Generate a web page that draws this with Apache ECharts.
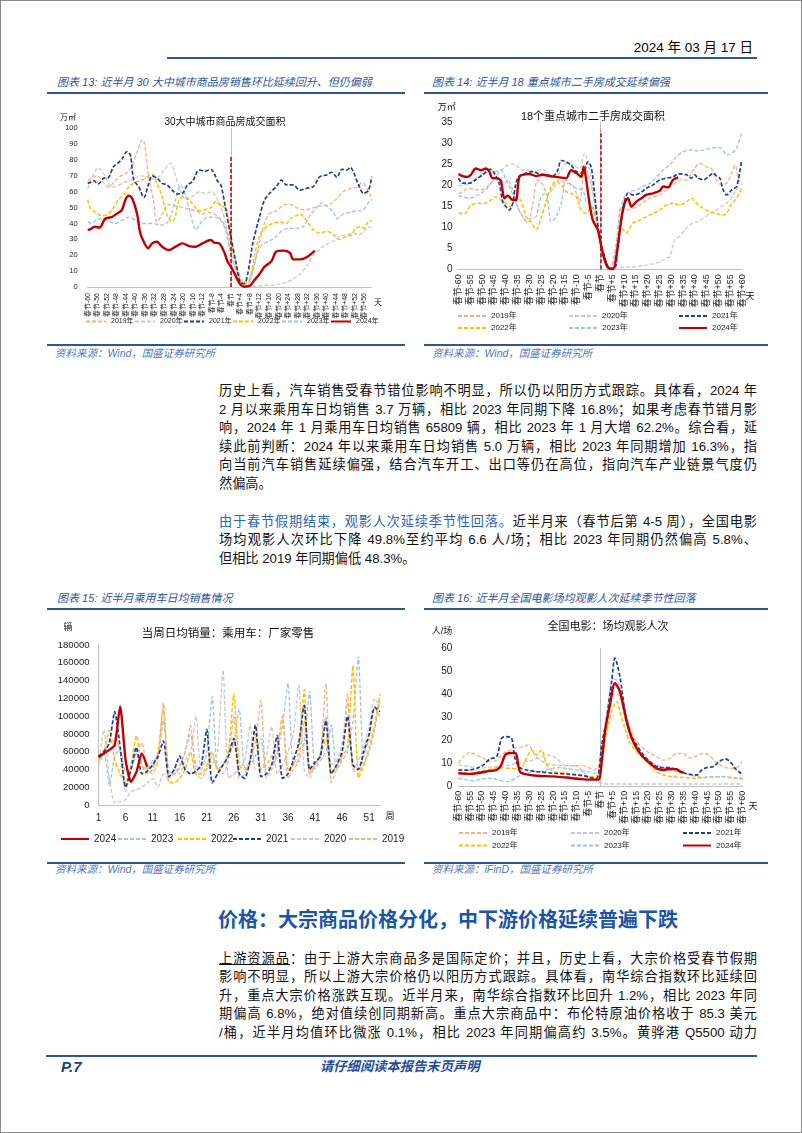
<!DOCTYPE html>
<html><head><meta charset="utf-8">
<script src="https://cdn.jsdelivr.net/npm/echarts@6.0.0/dist/echarts.min.js"></script>
<style>
html,body{margin:0;padding:0;background:#fff}
body{width:802px;height:1133px;position:relative;overflow:hidden;font-family:"Liberation Sans","Noto Sans CJK SC",sans-serif}
.frame{position:absolute;left:0;top:0;width:802px;height:1133px;box-sizing:border-box;border:1px solid #8a8a8a;pointer-events:none}
.abs{position:absolute;white-space:nowrap}
.rule{position:absolute;background:#2f5597}
.ct{position:absolute;white-space:nowrap;font-size:11px;line-height:14px;font-style:italic;color:#2f5597}
.src{position:absolute;white-space:nowrap;font-size:10.5px;line-height:14px;font-style:italic;color:#5377b8}
.para{position:absolute;left:219px;width:538px;font-size:13.2px;line-height:18.5px;color:#111}
.para div{text-align:justify;text-align-last:justify;height:18.5px}
.para div.last{text-align-last:left}
.blue{color:#2e64b0}
.chart{position:absolute}
</style></head>
<body>
<div class="abs" style="right:49px;top:39px;font-size:13.5px;line-height:18px;color:#000">2024 年 03 月 17 日</div>
<div class="rule" style="left:167px;top:57px;width:590px;height:2px"></div>

<div class="ct" style="left:57px;top:74.5px">图表 13: 近半月 30 大中城市商品房销售环比延续回升、但仍偏弱</div>
<div class="ct" style="left:432px;top:74.5px">图表 14: 近半月 18 重点城市二手房成交延续偏强</div>
<div class="rule" style="left:47px;top:92px;width:358px;height:2px"></div>
<div class="rule" style="left:424px;top:92px;width:344px;height:2px"></div>

<div id="c13" class="chart" style="left:47px;top:98px;width:358px;height:245px"></div>
<div id="c14" class="chart" style="left:424px;top:98px;width:344px;height:245px"></div>

<div class="rule" style="left:47px;top:344px;width:358px;height:1.5px"></div>
<div class="rule" style="left:424px;top:344px;width:344px;height:1.5px"></div>
<div class="src" style="left:55px;top:346px">资料来源：Wind，国盛证券研究所</div>
<div class="src" style="left:432px;top:346px">资料来源：Wind，国盛证券研究所</div>

<div class="para" style="top:382px">
<div>历史上看，汽车销售受春节错位影响不明显，所以仍以阳历方式跟踪。具体看，2024 年</div>
<div>2 月以来乘用车日均销售 3.7 万辆，相比 2023 年同期下降 16.8%；如果考虑春节错月影</div>
<div>响，2024 年 1 月乘用车日均销售 65809 辆，相比 2023 年 1 月大增 62.2%。综合看，延</div>
<div>续此前判断：2024 年以来乘用车日均销售 5.0 万辆，相比 2023 年同期增加 16.3%，指</div>
<div>向当前汽车销售延续偏强，结合汽车开工、出口等仍在高位，指向汽车产业链景气度仍</div>
<div class="last">然偏高。</div>
</div>

<div class="para" style="top:512.5px">
<div><span class="blue">由于春节假期结束，观影人次延续季节性回落。</span>近半月来（春节后第 4-5 周），全国电影</div>
<div>场均观影人次环比下降 49.8%至约平均 6.6 人/场；相比 2023 年同期仍然偏高 5.8%、</div>
<div class="last">但相比 2019 年同期偏低 48.3%。</div>
</div>

<div class="ct" style="left:57px;top:591px">图表 15: 近半月乘用车日均销售情况</div>
<div class="ct" style="left:432px;top:591px">图表 16: 近半月全国电影场均观影人次延续季节性回落</div>
<div class="rule" style="left:47px;top:608.3px;width:358px;height:2px"></div>
<div class="rule" style="left:424px;top:608.3px;width:344px;height:2px"></div>

<div id="c15" class="chart" style="left:47px;top:612px;width:358px;height:248px"></div>
<div id="c16" class="chart" style="left:424px;top:612px;width:344px;height:248px"></div>

<div class="rule" style="left:47px;top:862px;width:358px;height:1.5px"></div>
<div class="rule" style="left:424px;top:862px;width:344px;height:1.5px"></div>
<div class="src" style="left:55px;top:862px">资料来源：Wind，国盛证券研究所</div>
<div class="src" style="left:432px;top:862px">资料来源：iFinD，国盛证券研究所</div>

<div class="abs" style="left:218px;top:907px;font-size:20px;line-height:26px;font-weight:bold;color:#1c55a6">价格：大宗商品价格分化，中下游价格延续普遍下跌</div>

<div class="para" style="top:949.8px">
<div><span style="text-decoration:underline">上游资源品</span>：由于上游大宗商品多是国际定价；并且，历史上看，大宗价格受春节假期</div>
<div>影响不明显，所以上游大宗价格仍以阳历方式跟踪。具体看，南华综合指数环比延续回</div>
<div>升，重点大宗价格涨跌互现。近半月来，南华综合指数环比回升 1.2%，相比 2023 年同</div>
<div>期偏高 6.8%，绝对值续创同期新高。重点大宗商品中：布伦特原油价格收于 85.3 美元</div>
<div>/桶，近半月均值环比微涨 0.1%，相比 2023 年同期偏高约 3.5%。黄骅港 Q5500 动力</div>
</div>

<div class="rule" style="left:46px;top:1054.5px;width:711px;height:2.5px"></div>
<div class="abs" style="left:61px;top:1057px;font-size:15px;line-height:20px;font-weight:bold;font-style:italic;color:#1f3d7a">P.7</div>
<div class="abs" style="left:320px;top:1058px;font-size:13.3px;line-height:18px;font-weight:bold;font-style:italic;color:#1f4e9c">请仔细阅读本报告末页声明</div>

<div class="frame"></div>

<script>
// ---------------- DATA ----------------
const years = ['2019年','2020年','2021年','2022年','2023年','2024年'];
const years15 = ['2024','2023','2022','2021','2020','2019'];

// chart 13: 30大中城市商品房成交面积 (万㎡), [day relative to Spring Festival, value]
const c13_2019 = [[-60,67],[-58,69],[-56,70],[-53,65],[-51,63],[-48.5,67],[-46,70],[-43.5,72],[-41.5,76],[-37,93],[-34.5,70],[-32.5,55],[-31,41],[-29,45],[-26,52],[-23,51],[-20,50],[-17.5,49],[-14.5,48],[-12,46],[-9,47],[-5,44],[-3,40],[-0.5,30],[2,15],[5,3],[6.5,1],[9,10],[12,28],[14,40],[16,46],[19,48],[23,52],[25,52],[27.5,50],[31,48.5],[34.5,50],[37,51],[41.5,52],[44.5,56],[47,60],[50,62],[53,63],[55,66],[57,62],[58.5,58],[59,55]];
const c13_2020 = [[-60,62],[-55.5,75],[-52.7,70],[-50,63],[-42.8,67],[-37.2,70],[-31.6,68],[-28.8,72],[-25.3,78],[-23.2,70],[-21,60],[-18.9,55],[-16.1,57],[-13.3,60],[-10.5,59],[-8.4,60],[-4.9,53],[-2.1,40],[-0.6,25],[2.2,10],[4.3,2],[6.4,1],[10.6,0.5],[13.4,1],[19,1.5],[23.3,3],[26.1,5],[28.9,8],[31.7,13],[34.5,20],[37.3,24],[40.1,27],[43,29],[45.8,32],[48.6,33],[51.4,34],[53.5,33],[55.6,35],[57.7,38],[59,37]];
const c13_2021 = [[-60,65.3],[-59,65.8],[-57.6,67],[-55.5,65],[-53.4,68.5],[-51.3,69],[-49.2,75.8],[-47.1,78.4],[-45.7,80.5],[-43.5,85.3],[-42.1,83],[-40.7,67.4],[-38.6,63.2],[-36.5,56.3],[-34.4,65.3],[-33,70],[-30.9,68.5],[-28.8,65.3],[-26.7,64.3],[-24.6,61],[-22.4,58.6],[-20.3,59],[-18.2,64.3],[-16.1,66.4],[-13.3,73.7],[-10.5,73],[-8.4,74.2],[-7,71.6],[-5.6,66.8],[-4.2,64.3],[-2.1,48.5],[0,31.7],[2.2,14.9],[4.3,2.3],[5.7,2.3],[7.1,8.6],[9.2,27.5],[12,44.3],[14.1,54.8],[16.2,59],[19,63.2],[21.2,67.4],[23.3,64.3],[26.1,64.3],[28.9,61],[31.7,62.2],[34.5,63.2],[37.3,69.5],[40.1,70.6],[42.3,72.3],[44.4,69.1],[46.5,74.2],[48.6,73.7],[50,75.4],[51.4,72.3],[53.5,64.3],[55.6,59],[57.7,61],[59,69.5]];
const c13_2022 = [[-60,55],[-59,50],[-56.9,47],[-54.1,45],[-51.3,46],[-49.2,50],[-47.1,55],[-45,58],[-42.8,63],[-40,66],[-36.5,68],[-33,71],[-30.9,65],[-28.8,57],[-26.7,45],[-24.6,41],[-23.2,45],[-21.7,55],[-19.6,57],[-17.5,55],[-15.4,51],[-13.3,48],[-10.5,49],[-8.4,50],[-6.3,54],[-4.2,51],[-2.1,50],[0,30],[2.9,10],[5,2],[7.8,5],[9.9,20],[12,32],[14.8,38],[17.6,40],[20.5,41],[23.3,40],[24.7,43],[27.5,45],[28.9,46],[31.7,42],[34.5,36],[37.3,34],[40.1,35],[43,33],[45.1,30],[48.6,32],[50.7,33],[52.1,37],[54.2,38],[55.6,37],[57,40],[58.4,42],[59,41]];
const c13_2023 = [[-60,41],[-58.3,40],[-55.5,43],[-52.7,42],[-50.6,41],[-48.5,40],[-45.7,42],[-42.8,44],[-40,42],[-37.2,40],[-33,40],[-28.8,39],[-26,42],[-23.2,55],[-21,64],[-18.9,57],[-16.8,45],[-14.7,36],[-11.9,42],[-9.1,44],[-7,44],[-4.9,43],[-2.8,38],[-0.6,25],[2.2,10],[5,2],[7.1,1],[9.2,10],[11.3,22],[13.4,27],[16.2,29],[19,32],[21.9,36],[24.7,37],[27.5,37],[30.3,38],[33.1,45],[35.9,50],[38,53],[40.1,51],[43,47],[44.4,43],[47.2,46],[50,47],[52.8,48],[54.9,48],[57,52],[59,55]];
const c13_2024 = [[-60,36],[-59,36.3],[-57,38],[-55,37.4],[-52.7,43],[-50,44],[-48,46],[-45.7,48.5],[-44.2,55],[-42.8,57.5],[-41.4,56],[-39.3,46],[-38,34],[-36.5,28.5],[-34.7,24.4],[-33,27.5],[-31,28.5],[-28.8,25.4],[-26,23.3],[-23.2,25.4],[-20.3,27.5],[-17.5,25.8],[-14.7,25.4],[-11.9,27.5],[-8.4,29.6],[-7,28],[-4.9,27.5],[-2.8,22],[-1.4,16],[0,12.8],[1.5,8.6],[3.6,2.3],[5.7,0.2],[7.8,0.6],[9.9,4.4],[12,8.2],[14.1,12.8],[16.9,16],[19,22.3],[21.9,22.9],[24.7,21.6],[26.1,17.4],[28.9,17.4],[31.7,18.7],[35.2,22.9]];

// chart 14: 18个重点城市二手房成交面积 (万㎡)
const c14_2019 = [[-60,18],[-58.3,18.5],[-55.5,19.3],[-52.7,18.9],[-49.8,19],[-47,20.1],[-44.9,21.3],[-42.8,21.7],[-40.6,20.5],[-39.2,21.3],[-37.1,18.9],[-35,14.9],[-32.9,12.5],[-30.7,11],[-28.6,15.7],[-26.5,21.3],[-24.4,20.1],[-22.3,17.7],[-20.1,19.3],[-17.3,21.3],[-14.5,20.5],[-11.7,20.1],[-8.8,16.1],[-6.7,24.8],[-4.6,21.3],[-2.5,16.5],[-0.4,7.8],[1.8,2.2],[3.9,0],[6.7,6.2],[8.8,14.9],[10.9,14.1],[13.8,14.5],[16.6,15.3],[19.4,16.5],[22.3,17.3],[25.1,17.7],[27.9,18.9],[30.7,20.1],[33.6,21.3],[36.4,21.3],[39.2,23.6],[42,25.2],[44.9,24.4],[47,24],[49.1,21.3],[51.2,20.1],[53.4,20.5],[55.5,22.9],[56.9,24.8],[58.3,21.7],[59.7,20.1]];
const c14_2020 = [[-60,20],[-58.3,20],[-55.5,20.5],[-52.7,21.7],[-49.8,22.9],[-47,24],[-44.9,23.3],[-42,23.6],[-39.2,24.8],[-37.1,25.1],[-35,24.4],[-32.9,23.6],[-30.7,23.6],[-27.9,22.9],[-25.8,23.6],[-23.7,23.6],[-20.8,22],[-18.7,22],[-16.6,23.6],[-14.5,25.2],[-11.7,24.8],[-8.8,24],[-6.7,27.6],[-4.6,23.6],[-2.5,15.7],[-0.4,7.8],[1.8,3],[3.9,0.6],[6.7,0],[9.5,0.5],[13.8,0.6],[19.4,1],[22.3,1.3],[25.1,1.8],[27.9,2.6],[29.3,3],[31.4,7],[33.6,7.9],[35.7,9.4],[37.8,10.6],[40.6,11.3],[43.5,12.1],[46.3,13.3],[49.1,14.1],[51.9,15.3],[54.8,16.5],[56.9,18.5],[59,20]];
const c14_2021 = [[-60,21.7],[-58.3,20.5],[-55.5,20.5],[-52.7,21.3],[-49.8,22.5],[-46.3,23.8],[-44.9,22.9],[-42.8,20.5],[-41.3,16.1],[-39.9,14.9],[-38.5,14.1],[-37.1,15.7],[-35.7,20.5],[-34.3,22.2],[-31.4,22.9],[-28.6,23.3],[-25.8,22.7],[-23,22.5],[-20.1,22.2],[-18,23.6],[-16.6,25.9],[-14.5,25.6],[-12.4,24.8],[-10.2,23.3],[-7.4,22.9],[-5.3,25.6],[-3.9,24.4],[-2.5,18.1],[-0.4,7.8],[1.8,3],[3.9,0.2],[6,0.2],[7.4,5.4],[9.5,14.1],[11.7,18.1],[13.8,17.7],[16.6,18.1],[19.4,19.3],[22.3,20.1],[25.1,21.3],[27.9,21.7],[30.7,22],[32.9,22.7],[36.4,22.5],[38.5,21.7],[39.9,22.5],[41.3,21.7],[43.5,21.3],[45.6,22],[47.7,22.9],[49.1,22.2],[50.5,21.7],[51.9,18.9],[53.4,17.7],[55.5,18.9],[57.6,19.7],[59.7,26]];
const c14_2022 = [[-60,13.5],[-58.3,13.2],[-56.9,13.4],[-54.8,15.3],[-51.9,15.7],[-49.1,15.7],[-46.3,16.5],[-44.2,17.3],[-42,16.5],[-39.9,15.7],[-37.8,14.9],[-35.7,17.3],[-33.6,16.3],[-31.4,12.5],[-29.3,11.3],[-27.2,9.4],[-25.1,12.1],[-23,16.1],[-20.8,19.7],[-18.7,20.9],[-16.6,20.1],[-14.5,18.5],[-12.4,18.1],[-10.2,17.3],[-8.1,14.1],[-6,13.3],[-3.9,14.9],[-1.8,11.7],[0.4,5.4],[2.5,1.4],[4.6,0],[6.7,2.2],[8.8,10.2],[10.9,8.6],[13.8,11],[16.6,11.7],[19.4,12.5],[22.3,13.3],[25.1,14.1],[27.9,15.3],[30.7,15.7],[33.6,15.3],[36.4,16.1],[38.5,16.9],[40.6,15.7],[43.5,14.5],[46.3,13.7],[49.1,13.3],[51.9,12.9],[53.4,13.3],[55.5,15.7],[57.6,16.9],[59.7,19.3]];
const c14_2023 = [[-60,17.5],[-58.3,17.3],[-55.5,16.9],[-51.9,17.7],[-48.4,18.9],[-46.3,20.5],[-44.2,22],[-42,23.6],[-39.9,21.3],[-37.8,18.9],[-35.7,15.7],[-33.6,13.3],[-31.4,11.7],[-29.3,12.1],[-27.2,12.5],[-25.1,17.3],[-23,18.1],[-20.8,11.3],[-18.7,12.5],[-16.6,15.7],[-14.5,21.3],[-12.4,20.1],[-10.2,19.3],[-7.4,18.9],[-6,16.1],[-4.6,15.7],[-2.5,14.1],[-0.4,7.8],[1.8,1.8],[3.9,0],[6,3],[8.1,12.5],[10.2,17.3],[12.4,18.5],[15.2,18.9],[18,19.7],[20.9,20.5],[23.7,22],[26.5,23.6],[29.3,24.8],[32.2,26.8],[35,28],[37.8,28.4],[40.6,28.2],[43.5,28.4],[46.3,28.8],[49.1,29],[51.2,28.8],[53.4,27.2],[55.5,27.6],[57.6,28.8],[59.7,32.5]];
const c14_2024 = [[-60,22.7],[-58.3,22.2],[-56.2,22],[-54.8,22.5],[-52.7,24],[-50.5,23.6],[-48.4,24],[-47,23.3],[-45.6,21.7],[-43.5,21.7],[-42,20.9],[-40.6,16.9],[-39.2,17.5],[-37.1,16.5],[-35.7,16.5],[-34.3,22],[-32.2,22.6],[-30,22.7],[-27.2,22.2],[-24.4,22.5],[-21.6,22.2],[-18.7,22],[-14.5,21.7],[-12.4,23.6],[-10.2,22.9],[-8.1,22],[-7.1,24.4],[-6,21.3],[-4.6,15.7],[-3.2,11.7],[-1.1,9.4],[0.4,5.4],[1.8,2.2],[3.2,0.4],[5.3,0],[6.7,3],[8.8,11.7],[10.2,15.7],[11.7,16.9],[13.1,14.9],[15.2,16.1],[17.3,16.9],[19.4,17.7],[22.3,18.1],[25.1,18.7],[26.5,19.7],[28.6,19.5],[30.7,21.3],[32.9,21.9]];

// chart 15: 当周日均销量：乘用车：厂家零售 (辆), week 1..53
const weeks = ['1','2','3','4','5','6','7','8','9','10','11','12','13','14','15','16','17','18','19','20','21','22','23','24','25','26','27','28','29','30','31','32','33','34','35','36','37','38','39','40','41','42','43','44','45','46','47','48','49','50','51','52','53'];
const w2024 = [54000,58000,62000,67500,111000,51000,26000,37000,58000,43000];
const w2023 = [45000,62000,22000,55000,62000,38000,40000,58000,45000,40000,50000,55000,95000,38000,35000,42000,60000,80000,45000,40000,60000,122000,40000,45000,55000,70000,108000,42000,45000,55000,75000,40000,45000,60000,90000,137000,45000,50000,70000,128000,40000,50000,60000,90000,40000,50000,60000,95000,167000,45000,60000,85000,120000];
const w2022 = [50000,60000,84000,50000,35000,25000,45000,78000,45000,35000,40000,60000,110000,25000,25000,30000,40000,60000,35000,35000,45000,60000,40000,45000,60000,125000,45000,40000,50000,80000,40000,45000,55000,65000,100000,40000,45000,60000,130000,35000,45000,55000,75000,35000,45000,55000,65000,157000,30000,45000,65000,90000,125000];
const w2021 = [55000,60000,70000,105000,65000,20000,40000,65000,35000,38000,45000,55000,72000,32000,40000,55000,40000,35000,38000,45000,85000,25000,35000,45000,55000,75000,35000,30000,50000,90000,32000,35000,45000,78000,30000,35000,50000,70000,112000,40000,48000,55000,95000,35000,45000,60000,100000,45000,40000,60000,80000,110000,105000];
const w2020 = [45000,85000,30000,2000,4000,6000,15000,17000,20000,25000,30000,20000,35000,30000,40000,35000,50000,60000,100000,35000,40000,45000,60000,152000,30000,35000,40000,50000,90000,40000,40000,55000,88000,35000,45000,60000,80000,135000,40000,30000,45000,60000,100000,45000,50000,70000,115000,40000,50000,65000,90000,120000,110000];
const w2019 = [55000,62000,68000,75000,60000,15000,40000,60000,70000,40000,35000,50000,115000,30000,35000,45000,60000,90000,35000,30000,40000,55000,40000,35000,50000,100000,30000,35000,50000,70000,118000,30000,40000,55000,100000,30000,40000,50000,95000,35000,45000,55000,137000,25000,40000,55000,125000,40000,35000,55000,75000,110000,100000];

// chart 16: 全国电影：场均观影人次 (人/场)
const c16_2019 = [[-60,10],[-57.9,12.9],[-55.1,14.8],[-52.3,13.6],[-49.4,12.2],[-46.6,10.7],[-43.8,11.4],[-41,14.3],[-38.2,15.8],[-35.4,16.8],[-32.6,17.2],[-30.5,18],[-27.6,13.6],[-25.5,11.4],[-22.7,10],[-19.9,9.3],[-15.7,9],[-10.1,9],[-5.8,8.6],[-3,7.1],[-0.2,10],[2.6,26.7],[5.4,40],[7.5,40],[9.6,33.9],[12.5,25.2],[15.3,19.4],[18.1,16.5],[20.9,14.3],[23.7,12.9],[26.5,11.4],[29.3,12.2],[32.1,14.3],[35,14.3],[37.8,12.2],[40.6,13.2],[43.4,14.3],[46.2,13.3],[49,10],[51.8,8.6],[54.7,7.8],[57.5,8.1],[59.6,10.7]];
const c16_2020 = [[-60,9.3],[-55,8.5],[-50,8],[-45,8.5],[-40,9],[-35,10],[-30,11],[-25.5,12.5],[-21.3,13.5],[-18.5,12],[-15.7,9.5],[-10.1,8.5],[-5.8,5],[-3,3],[-0.2,1.5],[2,1],[10,1],[20,1],[30,1],[40,1],[50,1],[60,1]];
const c16_2021 = [[-60,7],[-55,7.1],[-51.6,8.1],[-49.4,9.3],[-46.6,11.9],[-43.8,12.9],[-41.7,20.9],[-39.6,21.6],[-37.5,20.9],[-36.1,12.2],[-34,8.1],[-31.2,7.1],[-26.9,6.4],[-19.9,5.7],[-12.9,5.2],[-7.2,4.6],[-4.4,3.8],[-1.6,3.5],[0.5,18],[2.6,29.6],[4.7,45.5],[6.1,55.7],[8.2,47.7],[10.3,32.5],[12.5,23],[15.3,18],[18.1,13.6],[20.9,10.7],[23.7,8.6],[26.5,8.1],[29.3,8.1],[32.1,7.1],[35,5.9],[37.8,5.2],[40.6,4.9],[42.7,7.1],[44.8,8.1],[47.6,8.6],[50.4,11],[52.5,11.9],[54.7,10.7],[56.8,7.8],[58.9,5.9],[60,5.2]];
const c16_2022 = [[-60,6],[-55,5.7],[-51,6.4],[-46.6,7.4],[-42.4,8.1],[-38.2,7.8],[-34,7.5],[-31.2,12.2],[-29.1,15.8],[-26.9,13.6],[-24.8,15.8],[-22.7,9.3],[-19.9,6.4],[-14.3,5.7],[-8.6,4.9],[-3,4.2],[-0.2,6],[1.9,19.4],[4.7,32.5],[6.8,36.8],[8.2,32.5],[10.3,25.2],[12.5,18.7],[15.3,15.1],[18.1,12.2],[20.9,9.3],[23.7,6.4],[26.5,4.9],[30.7,4.2],[35,3.8],[39.2,3.5],[43.4,3.8],[47.6,4.2],[51.8,4.2],[56.1,3.5],[60,3.2]];
const c16_2023 = [[-60,3.5],[-56.5,2.8],[-53.7,2.3],[-50.9,3],[-46.6,3.5],[-42.4,2.6],[-38.9,2],[-36.1,3.5],[-33.3,4.9],[-29.8,6.1],[-25.5,6.4],[-21.3,7.5],[-18.5,8.1],[-14.3,7.8],[-10.1,7.1],[-5.8,6.4],[-1.6,5.7],[0.5,15.1],[2.6,31],[5.4,47],[7.5,45.5],[9.6,32.5],[12.5,22.3],[15.3,17.2],[18.1,12.9],[20.9,10.7],[23.7,9.3],[26.5,8.1],[29.3,7.1],[32.1,6.4],[35,5.7],[37.8,4.9],[40.6,4.2],[43.4,3.8],[47.6,4.2],[51.8,4.2],[56.1,3.8],[60,3.5]];
const c16_2024 = [[-60,5.7],[-55,5.4],[-51,5.9],[-46.6,6.7],[-43.8,7.1],[-42,9],[-40.3,13.5],[-38.2,14.5],[-36.1,14.5],[-35.4,13.6],[-34,6.4],[-31.2,5.2],[-26.9,4.6],[-19.9,4.3],[-14.3,3.8],[-8.6,3.2],[-4.4,2.9],[-0.9,2.9],[0.5,10.7],[1.9,23.8],[4,35.4],[6.1,44.8],[8.2,41.2],[11.1,28.1],[13.2,20.9],[15.3,16.5],[18.1,12.5],[20.9,10],[23.7,7.8],[26.5,7.1],[29.3,7.5],[32.1,7.4],[33.6,6.4],[35,6.1]];

// tick labels
function festLabel(d){ return d === 0 ? '春节' : '春节' + (d > 0 ? '+' : '') + d; }
const ticks4 = []; for (let d = -60; d <= 56; d += 4) ticks4.push(festLabel(d));
const ticks5 = []; for (let d = -60; d <= 60; d += 5) ticks5.push(festLabel(d));

// ---------------- STYLE ----------------
const FONT = '"Liberation Sans","Noto Sans CJK SC",sans-serif';
const COLORS = ['#f4b183','#c9c9c9','#203f8f','#ffc000','#9dc3e6','#c00000'];
const WIDTHS = [1.3,1.3,1.7,1.5,1.3,2.4];

function lineSeries(name, data, idx, extra){
  return Object.assign({
    type:'line', name:name, data:data, symbol:'none', showSymbol:false, smooth:0.3,
    animation:false, connectNulls:false,
    lineStyle:{color:COLORS[idx], width:WIDTHS[idx], type: idx===5 ? 'solid' : [4,2]},
    itemStyle:{color:COLORS[idx]},
    z: idx===5 ? 6 : (idx===2 ? 4 : 3)
  }, extra || {});
}
function legends(names, pos, fs, iw){
  return names.map((n,i)=>({
    data:[n], left:pos[i][0], top:pos[i][1], orient:'horizontal',
    itemWidth:iw, itemHeight:8, itemGap:0, padding:0, selectedMode:false,
    itemStyle:{opacity:0, borderWidth:0},
    textStyle:{fontSize:fs, color:'#222', fontFamily:FONT}
  }));
}
function txt(x, y, text, fs, extra){
  return Object.assign({type:'text', x:x, y:y, silent:true,
    style:{text:text, fontSize:fs, fontFamily:FONT, fill:'#111', align:'center', verticalAlign:'middle'}}, extra||{});
}
function dayAxis(step, max, fs, margin, ticks){
  return {type:'value', min:-60, max:max, interval:step,
    axisLine:{show:true, onZero:false, lineStyle:{color:'#bfbfbf', width:1}},
    axisTick:{show:false}, splitLine:{show:false},
    axisLabel:{rotate:90, fontSize:fs, color:'#222', fontFamily:FONT, margin:margin, showMaxLabel: max % step === 0,
      formatter:function(v){ const i = Math.round((v + 60) / step); return (Math.abs(v + 60 - i*step) < 1e-6 && i < ticks.length) ? ticks[i] : ''; }}
  };
}
function valAxis(max, step, fs, margin){
  return {type:'value', min:0, max:max, interval:step,
    axisLine:{show:true, lineStyle:{color:'#bfbfbf', width:1}},
    axisTick:{show:false}, splitLine:{show:false},
    axisLabel:{fontSize:fs, color:'#222', fontFamily:FONT, margin:margin, formatter:function(v){ return String(v); }}};
}
function festMark(x, top){
  return {silent:true, symbol:['none','none'], label:{show:false},
    lineStyle:{color:'#c00000', type:[4,2], width:1.5},
    data:[[{coord:[x,0]},{coord:[x,top]}]]};
}

// ---------------- CHART 13 ----------------
(function(){
  const ch = echarts.init(document.getElementById('c13'), null, {renderer:'canvas'});
  const datas = [c13_2019,c13_2020,c13_2021,c13_2022,c13_2023,c13_2024];
  ch.setOption({
    animation:false, textStyle:{fontFamily:FONT},
    grid:{left:40.7, top:30.3, width:284, height:158.7, containLabel:false, outerBoundsMode:'none'},
    xAxis: dayAxis(4, 59, 7, 6, ticks4),
    yAxis: valAxis(100, 10, 7.5, 10),
    legend: legends(years, [[38,220],[87,220],[136,220],[185,220],[234,220],[283,220]], 7, 20),
    graphic:[
      txt(21, 20, '万㎡', 8),
      txt(178, 24, '30大中城市商品房成交面积', 10),
      txt(331, 205, '天', 8)
    ],
    series: datas.map((d,i)=>lineSeries(years[i], d, i, i===5 ? {markLine:festMark(0,82)} : {}))
  });
})();

// ---------------- CHART 14 ----------------
(function(){
  const ch = echarts.init(document.getElementById('c14'), null, {renderer:'canvas'});
  const datas = [c14_2019,c14_2020,c14_2021,c14_2022,c14_2023,c14_2024];
  ch.setOption({
    animation:false, textStyle:{fontFamily:FONT},
    grid:{left:34.5, top:24.3, width:283.8, height:147, containLabel:false, outerBoundsMode:'none'},
    xAxis: dayAxis(5, 60, 9, 5, ticks5),
    yAxis: valAxis(35, 5, 10, 6),
    legend: legends(years, [[33,214],[144,214],[254,214],[33,226],[144,226],[254,226]], 8, 28),
    graphic:[
      txt(22.7, 10, '万㎡', 9),
      txt(169, 19, '18个重点城市二手房成交面积', 11),
      txt(326, 199, '天', 9)
    ],
    series: datas.map((d,i)=>lineSeries(years[i], d, i, i===5 ? {markLine:festMark(0,33)} : {}))
  });
})();

// ---------------- CHART 15 ----------------
(function(){
  const ch = echarts.init(document.getElementById('c15'), null, {renderer:'canvas'});
  const datas = [w2024,w2023,w2022,w2021,w2020,w2019];
  const idxMap = [5,4,3,2,1,0];
  ch.setOption({
    animation:false, textStyle:{fontFamily:FONT},
    grid:{left:51.5, top:33, width:281.5, height:160, containLabel:false, outerBoundsMode:'none'},
    xAxis:{type:'category', data:weeks, boundaryGap:false,
      axisLine:{show:true, lineStyle:{color:'#bfbfbf'}}, axisTick:{show:false},
      axisLabel:{interval:4, fontSize:10, color:'#222', fontFamily:FONT, margin:8}},
    yAxis: valAxis(180000, 20000, 9.5, 9),
    legend: legends(years15, [[13,222],[70,222],[130,222],[185,222],[243,222],[301,222]], 10, 28),
    graphic:[
      txt(21, 16, '辆', 9),
      txt(181, 22, '当周日均销量：乘用车：厂家零售', 11.5),
      txt(343, 205, '周', 9)
    ],
    series: datas.map((d,i)=>lineSeries(years15[i], d, idxMap[i], {smooth:0.2}))
  });
})();

// ---------------- CHART 16 ----------------
(function(){
  const ch = echarts.init(document.getElementById('c16'), null, {renderer:'canvas'});
  const datas = [c16_2019,c16_2020,c16_2021,c16_2022,c16_2023,c16_2024];
  ch.setOption({
    animation:false, textStyle:{fontFamily:FONT},
    grid:{left:34.3, top:36.3, width:284.4, height:138, containLabel:false, outerBoundsMode:'none'},
    xAxis: dayAxis(5, 60, 9, 4.5, ticks5),
    yAxis: valAxis(60, 10, 10, 6),
    legend: legends(years, [[34,217],[146,217],[258,217],[34,229.5],[146,229.5],[258,229.5]], 8, 28),
    graphic:[
      txt(18, 20, '人/场', 9),
      txt(184, 15, '全国电影：场均观影人次', 11),
      txt(329, 195, '天', 9)
    ],
    series: datas.map((d,i)=>lineSeries(years[i], d, i, i===5 ? {markLine:festMark(2,63)} : {}))
  });
})();
</script>
</body></html>
